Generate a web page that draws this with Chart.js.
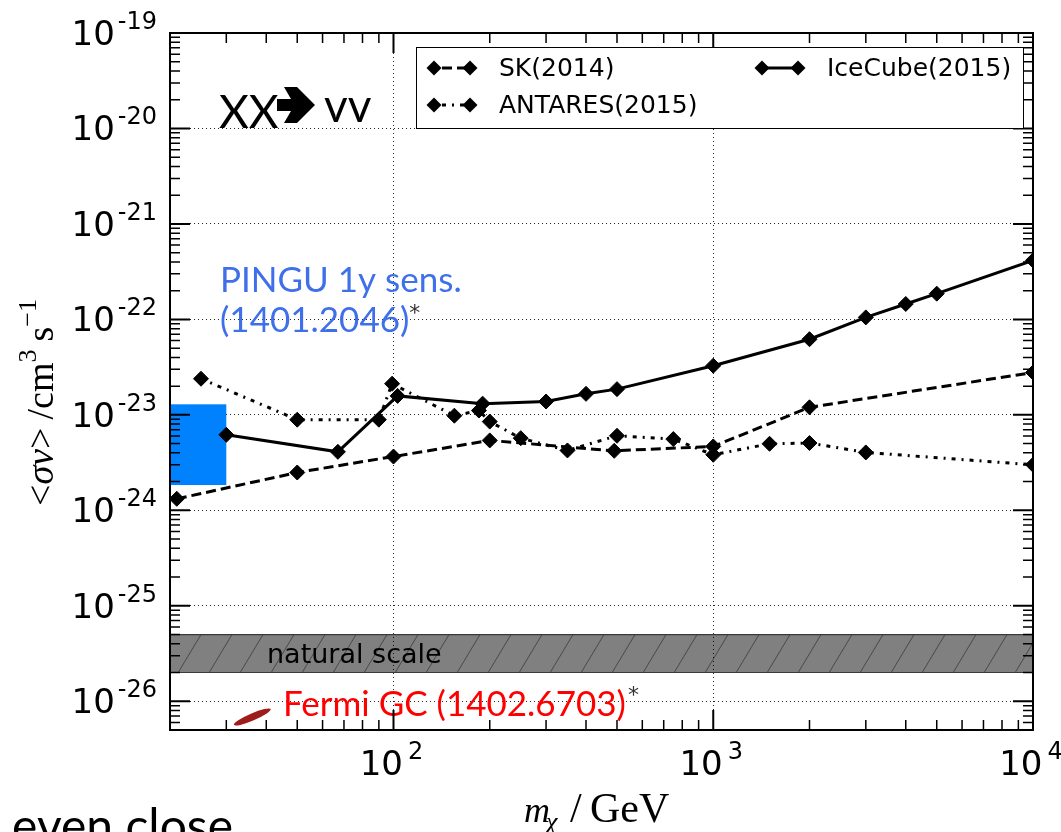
<!DOCTYPE html>
<html>
<head>
<meta charset="utf-8">
<script src="https://cdn.jsdelivr.net/npm/chart.js@4.4.1/dist/chart.umd.min.js"></script>
<style>
  html, body { margin: 0; padding: 0; background: #fff; }
  #wrap { position: relative; width: 1061px; height: 832px; }
</style>
</head>
<body>
<div id="wrap"><canvas id="limits"></canvas></div>
<script>
// <sigma v> limits for chi chi -> nu nu, mass in GeV, cross-section in cm^3 s^-1
const skMass = [21, 50, 100, 200, 490, 1000, 2000, 10000];
const skLimit = [1.32e-24, 2.49e-24, 3.66e-24, 5.4e-24, 4.2e-24, 4.67e-24, 1.2e-23, 2.78e-23];

const antaresMass = [25, 50, 90, 99, 155, 185, 200, 250, 350, 500, 750, 1000, 1500, 2000, 3000, 10000];
const antaresLimit = [2.39e-23, 8.9e-24, 8.9e-24, 2.12e-23, 9.8e-24, 1.11e-23, 8.5e-24, 5.7e-24,
  4.24e-24, 6.04e-24, 5.58e-24, 3.82e-24, 4.98e-24, 5.07e-24, 4.04e-24, 3.0e-24];

const icecubeMass = [30, 67, 103, 190, 300, 400, 500, 1000, 2000, 3000, 4000, 5000, 10000];
const icecubeLimit = [6.18e-24, 4.1e-24, 1.58e-23, 1.31e-23, 1.38e-23, 1.66e-23, 1.86e-23,
  3.27e-23, 6.2e-23, 1.05e-22, 1.45e-22, 1.86e-22, 4.15e-22];

// PINGU 1y sensitivity box (mass range, sigma v range)
const pinguMass = [20, 30];
const pinguSigmaV = [1.84e-24, 1.29e-23];

// natural scale band and Fermi GC region (ends of the ellipse)
const naturalBand = [2e-26, 5e-26];
const fermiMass = [31.7, 41.3];
const fermiSigmaV = [5.66e-27, 8.28e-27];

// axis ranges and decade labels
const xRange = [20, 1e4];
const yRange = [5e-27, 1e-19];
const xExponents = [2, 3, 4];
const yExponents = [-19, -20, -21, -22, -23, -24, -25, -26];

function points(xs, ys) {
  return xs.map((v, i) => ({ x: v, y: ys[i] }));
}

function diamond(ctx, x, y, r) {
  ctx.beginPath();
  ctx.moveTo(x - r, y);
  ctx.lineTo(x, y - r);
  ctx.lineTo(x + r, y);
  ctx.lineTo(x, y + r);
  ctx.closePath();
  ctx.fill();
}

// 10^n label with a raised exponent
function powerLabel(ctx, exp, x, y, align) {
  ctx.font = '34px "DejaVu Sans"';
  const wBase = ctx.measureText('10').width;
  ctx.font = '24px "DejaVu Sans"';
  const expText = String(exp);
  const wExp = ctx.measureText(expText).width;
  const gap = align === 'right' ? 3 : 5;
  const total = wBase + gap + wExp;
  const x0 = align === 'right' ? x - total : x - total / 2 - 2;
  ctx.textAlign = 'left';
  ctx.textBaseline = 'alphabetic';
  ctx.font = '34px "DejaVu Sans"';
  ctx.fillText('10', x0, y);
  ctx.font = '24px "DejaVu Sans"';
  ctx.fillText(expText, x0 + wBase + gap, y - 16);
}

const decorations = {
  id: 'decorations',
  beforeDraw(chart) {
    const { ctx, chartArea: a, scales: { y } } = chart;
    const top = y.getPixelForValue(naturalBand[1]);
    const bot = y.getPixelForValue(naturalBand[0]);
    ctx.save();
    ctx.fillStyle = '#808080';
    ctx.fillRect(a.left, top, a.right - a.left, bot - top);
    ctx.beginPath();
    ctx.rect(a.left, top, a.right - a.left, bot - top);
    ctx.clip();
    ctx.strokeStyle = 'rgba(35,35,35,0.6)';
    ctx.lineWidth = 1;
    const slant = (bot - top) * 0.6;
    for (let sx = a.left - slant; sx < a.right + slant; sx += 31) {
      ctx.beginPath();
      ctx.moveTo(sx, bot);
      ctx.lineTo(sx + slant, top);
      ctx.stroke();
    }
    ctx.restore();
    ctx.save();
    ctx.strokeStyle = '#3a3a3a';
    ctx.lineWidth = 1.2;
    ctx.beginPath();
    ctx.moveTo(a.left, top); ctx.lineTo(a.right, top);
    ctx.moveTo(a.left, bot); ctx.lineTo(a.right, bot);
    ctx.stroke();
    ctx.restore();
  },
  beforeDatasetsDraw(chart) {
    const { ctx, scales: { x, y } } = chart;
    const x0 = x.getPixelForValue(pinguMass[0]);
    const x1 = x.getPixelForValue(pinguMass[1]);
    const y0 = y.getPixelForValue(pinguSigmaV[1]);
    const y1 = y.getPixelForValue(pinguSigmaV[0]);
    ctx.save();
    ctx.fillStyle = '#0082ff';
    ctx.fillRect(x0, y0, x1 - x0, y1 - y0);
    ctx.restore();
  },
  afterDatasetsDraw(chart) {
    const { ctx, scales: { x, y } } = chart;
    ctx.save();

    // Fermi GC ellipse
    const p1 = { x: x.getPixelForValue(fermiMass[0]), y: y.getPixelForValue(fermiSigmaV[0]) };
    const p2 = { x: x.getPixelForValue(fermiMass[1]), y: y.getPixelForValue(fermiSigmaV[1]) };
    const len = Math.hypot(p2.x - p1.x, p2.y - p1.y) / 2;
    const ang = Math.atan2(p2.y - p1.y, p2.x - p1.x);
    ctx.fillStyle = '#9e1c1c';
    ctx.beginPath();
    ctx.ellipse((p1.x + p2.x) / 2, (p1.y + p2.y) / 2, len, 3.6, ang, 0, Math.PI * 2);
    ctx.fill();

    ctx.textAlign = 'left';
    ctx.textBaseline = 'alphabetic';

    // natural scale label
    ctx.fillStyle = '#000';
    ctx.font = '27px "DejaVu Sans"';
    ctx.fillText('natural scale', 267, 663);

    // channel: XX -> vv, with a heavy arrow between
    ctx.font = '46px Lato';
    ctx.fillText('XX', 219, 128);
    ctx.beginPath();
    ctx.moveTo(277, 99);
    ctx.lineTo(291, 99);
    ctx.lineTo(284, 87);
    ctx.lineTo(297, 87);
    ctx.lineTo(315, 105);
    ctx.lineTo(297, 123);
    ctx.lineTo(284, 123);
    ctx.lineTo(291, 111);
    ctx.lineTo(277, 111);
    ctx.closePath();
    ctx.fill();
    ctx.fillText('vv', 324, 122);

    // PINGU
    ctx.fillStyle = '#3f70ea';
    ctx.font = '35px Lato';
    ctx.fillText('PINGU 1y sens.', 220, 292);
    ctx.fillText('(1401.2046)', 220, 332);
    const wP = ctx.measureText('(1401.2046)').width;
    ctx.fillStyle = '#333';
    ctx.font = '22px "DejaVu Sans"';
    ctx.fillText('*', 220 + wP, 320);

    // Fermi GC
    ctx.fillStyle = '#ff0000';
    ctx.font = '35px Lato';
    ctx.fillText('Fermi GC (1402.6703)', 283, 716);
    const wF = ctx.measureText('Fermi GC (1402.6703)').width;
    ctx.fillStyle = '#333';
    ctx.font = '22px "DejaVu Sans"';
    ctx.fillText('*', 285 + wF, 702);

    ctx.restore();
  },
  afterDraw(chart) {
    const { ctx, chartArea: a, scales: { x, y } } = chart;
    ctx.save();

    // inward ticks on all four sides
    ctx.strokeStyle = '#000';
    const decadeTicks = (scale, lo, hi, draw) => {
      for (let e = Math.floor(Math.log10(lo)); e <= Math.ceil(Math.log10(hi)); e++) {
        for (let m = 1; m <= 9; m++) {
          const v = m * Math.pow(10, e);
          if (v < lo * 0.999 || v > hi * 1.001) continue;
          draw(scale.getPixelForValue(v), m === 1);
        }
      }
    };
    decadeTicks(x, xRange[0], xRange[1], (px, major) => {
      const len = major ? 20 : 10;
      ctx.lineWidth = major ? 2 : 1.5;
      ctx.beginPath();
      ctx.moveTo(px, a.bottom); ctx.lineTo(px, a.bottom - len);
      ctx.moveTo(px, a.top); ctx.lineTo(px, a.top + len);
      ctx.stroke();
    });
    decadeTicks(y, yRange[0], yRange[1], (py, major) => {
      const len = major ? 20 : 10;
      ctx.lineWidth = major ? 2 : 1.5;
      ctx.beginPath();
      ctx.moveTo(a.left, py); ctx.lineTo(a.left + len, py);
      ctx.moveTo(a.right, py); ctx.lineTo(a.right - len, py);
      ctx.stroke();
    });

    // frame
    ctx.lineWidth = 2;
    ctx.strokeRect(a.left, a.top, a.right - a.left, a.bottom - a.top);

    // legend
    const box = { left: 416, top: 47, right: 1023, bottom: 128 };
    ctx.fillStyle = '#fff';
    ctx.fillRect(box.left, box.top, box.right - box.left, box.bottom - box.top);
    ctx.strokeStyle = '#000';
    ctx.lineWidth = 1;
    ctx.strokeRect(box.left + 0.5, box.top + 0.5, box.right - box.left, box.bottom - box.top);
    const slots = [
      { x: 434, y: 68 },   // SK
      { x: 434, y: 105 },  // ANTARES
      { x: 762, y: 68 }    // IceCube
    ];
    chart.data.datasets.forEach((ds, i) => {
      const s = slots[i];
      ctx.strokeStyle = '#000';
      ctx.lineWidth = ds.borderWidth;
      ctx.setLineDash(ds.borderDash || []);
      ctx.lineDashOffset = -8;
      ctx.beginPath();
      ctx.moveTo(s.x, s.y); ctx.lineTo(s.x + 36, s.y);
      ctx.stroke();
      ctx.setLineDash([]);
      ctx.fillStyle = '#000';
      diamond(ctx, s.x, s.y, 7.5);
      diamond(ctx, s.x + 36, s.y, 7.5);
      ctx.font = '25px "DejaVu Sans"';
      ctx.textBaseline = 'middle';
      ctx.textAlign = 'left';
      ctx.fillText(ds.label, s.x + 65, s.y + 1);
    });

    // tick labels
    ctx.fillStyle = '#000';
    xExponents.forEach(e => powerLabel(ctx, e, x.getPixelForValue(Math.pow(10, e)), a.bottom + 45, 'center'));
    yExponents.forEach(e => powerLabel(ctx, e, a.left - 13, y.getPixelForValue(Math.pow(10, e)) + 12, 'right'));

    // x axis title: m_chi / GeV
    ctx.textBaseline = 'alphabetic';
    ctx.textAlign = 'left';
    ctx.font = 'italic 36px "Liberation Serif"';
    ctx.fillText('m', 524, 822);
    ctx.font = 'italic 26px "Liberation Serif"';
    ctx.fillText('\u03c7', 546, 830);
    ctx.font = '42px "Liberation Serif"';
    ctx.fillText('/', 570, 822);
    ctx.fillText('GeV', 590, 822);

    // y axis title: <sigma v> / cm^3 s^-1
    ctx.translate(53, 506);
    ctx.rotate(-Math.PI / 2);
    let cx = 0;
    const piece = (txt, font, dy) => {
      ctx.font = font;
      ctx.fillText(txt, cx, dy);
      cx += ctx.measureText(txt).width;
    };
    piece('<', '38px "Liberation Serif"', 0);
    piece('\u03c3v', 'italic 38px "Liberation Serif"', 0);
    piece('>', '38px "Liberation Serif"', 0);
    cx += 8;
    piece('/cm', '38px "Liberation Serif"', 0);
    piece('3', '26px "Liberation Serif"', -17);
    cx += 8;
    piece('s', '38px "Liberation Serif"', 0);
    piece('\u22121', '26px "Liberation Serif"', -17);
    ctx.restore();

    // slide text below the plot
    ctx.save();
    ctx.fillStyle = '#000';
    ctx.font = '48px Lato';
    ctx.textAlign = 'right';
    ctx.textBaseline = 'alphabetic';
    ctx.fillText('even close', 233, 843);
    ctx.restore();
  }
};

const lineStyle = {
  borderColor: '#000',
  backgroundColor: '#000',
  borderWidth: 3,
  pointStyle: 'rectRot',
  pointRadius: 7.5,
  pointHoverRadius: 7.5,
  pointBorderWidth: 1,
  showLine: true,
  tension: 0,
  clip: 0
};

new Chart(document.getElementById('limits').getContext('2d'), {
  type: 'scatter',
  data: {
    datasets: [
      { ...lineStyle, label: 'SK(2014)', data: points(skMass, skLimit), borderDash: [10, 5] },
      { ...lineStyle, label: 'ANTARES(2015)', data: points(antaresMass, antaresLimit), borderDash: [4, 6, 2, 6] },
      { ...lineStyle, label: 'IceCube(2015)', data: points(icecubeMass, icecubeLimit) }
    ]
  },
  options: {
    responsive: true,
    maintainAspectRatio: false,
    devicePixelRatio: 1,
    animation: false,
    events: [],
    layout: { padding: { left: 170, right: 28, top: 33, bottom: 102 } },
    scales: {
      x: {
        type: 'logarithmic',
        min: xRange[0],
        max: xRange[1],
        afterBuildTicks: s => { s.ticks = xExponents.map(e => ({ value: Math.pow(10, e) })); },
        ticks: { display: false },
        grid: { color: 'rgba(0,0,0,0.85)', lineWidth: 1, drawTicks: false },
        border: { display: false, dash: [1, 3] }
      },
      y: {
        type: 'logarithmic',
        min: yRange[0],
        max: yRange[1],
        afterBuildTicks: s => { s.ticks = yExponents.map(e => ({ value: Math.pow(10, e) })); },
        ticks: { display: false },
        grid: { color: 'rgba(0,0,0,0.85)', lineWidth: 1, drawTicks: false },
        border: { display: false, dash: [1, 3] }
      }
    },
    plugins: {
      legend: { display: false },
      tooltip: { enabled: false }
    }
  },
  plugins: [decorations]
});
</script>
</body>
</html>
